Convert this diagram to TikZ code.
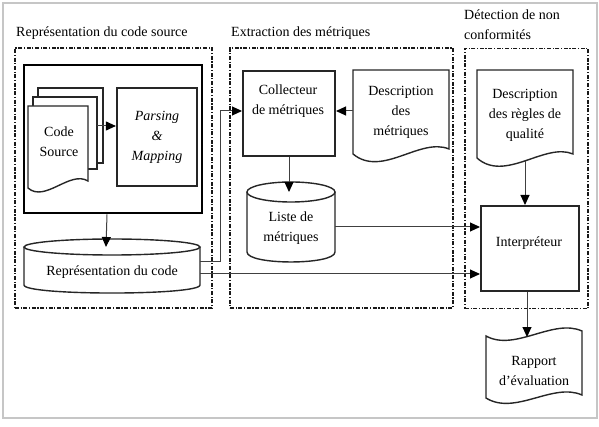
\documentclass[tikz,border=0pt]{standalone}
\usepackage{fontspec}
\setmainfont{Liberation Serif}
\usetikzlibrary{arrows.meta,calc}
\begin{document}
\begin{tikzpicture}[x=1pt,y=-1pt,
  txt/.style={font=\fontsize{14}{20}\selectfont, align=center, inner sep=0pt},
  grp/.style={draw=black!90, line width=1.5pt, dash pattern=on 4pt off 1.6pt on 1.2pt off 1.6pt, inner sep=0pt},
  arr/.style={draw=black!75, line width=1pt, -{Triangle[length=10pt,width=9pt,color=black]}},
  shp/.style={draw=black!85, line width=1.4pt, fill=white},
  box/.style={draw=black!85, line width=2pt, fill=white, inner sep=0pt},
  ghost/.style={inner sep=0pt, outer sep=0pt},
]
\useasboundingbox (0,0) rectangle (599,427);
\draw[gray!45, line width=1.5pt] (3,3) rectangle (597,418);

% group frames
\node[grp, minimum width=197pt, minimum height=260pt] (g1) at (113.5,178) {};
\node[grp, minimum width=223pt, minimum height=260pt] (g2) at (341.5,178) {};
\node[grp, minimum width=123pt, minimum height=260pt] (g3) at (526.5,178.5) {};

% group titles
\node[txt, anchor=west] (t1) at (16,33) {Représentation du code source};
\node[txt, anchor=west] (t2) at (231,33) {Extraction des métriques};
\node[txt, anchor=west, align=left] (t3) at (464,25) {Détection de non\\conformités};

% source block
\node[draw=black, line width=2.8pt, minimum width=178pt, minimum height=148pt, inner sep=0pt] (src) at (113,139) {};
\draw[shp] (38,88) rectangle (103,163);
\draw[shp] (33,97) rectangle (97,169);
\draw[shp] (28,106) -- (88,106) -- (88,181) .. controls (70,170) and (45,203) .. (28,188) -- cycle;
\node[txt] (cs) at (59,142) {Code\\Source};
\coordinate (csout) at (97,126);
\node[box, line width=2.2pt, minimum width=80pt, minimum height=98pt, font=\fontsize{14}{20}\selectfont\itshape, align=center] (parse) at (157,137) {Parsing\\\&\\Mapping};

% representation cylinder
\draw[shp] (24,247) -- (24,285) .. controls (24,295.7) and (200,295.7) .. (200,285) -- (200,247);
\draw[shp] (112,247) ellipse [x radius=88, y radius=8];
\node[ghost, minimum width=176pt, minimum height=46pt] (repcyl) at (112,270) {};
\node[txt] (rep) at (112,272) {Représentation du code};

% collecteur
\node[box, minimum width=92pt, minimum height=85pt] (coll) at (289,113.5) {};
\node[txt] (colltxt) at (288,101) {Collecteur\\de métriques};

% description des metriques
\draw[shp] (353,70) -- (449,70) -- (449,149) .. controls (420,137) and (382,178) .. (353,154) -- cycle;
\node[ghost, minimum width=96pt, minimum height=84pt] (descdoc) at (401,112) {};
\node[txt] (desc) at (401,112) {Description\\des\\métriques};

% liste cylinder
\draw[shp] (247,192) -- (247,252) .. controls (247,265.3) and (335,265.3) .. (335,252) -- (335,192);
\draw[shp] (291,192) ellipse [x radius=44, y radius=10];
\node[ghost, minimum width=88pt, minimum height=70pt] (listecyl) at (291,227) {};
\node[txt] (liste) at (291,228.5) {Liste de\\métriques};

% regles
\draw[shp] (477,70) -- (573,70) -- (573,154) .. controls (545,142) and (505,183) .. (477,158) -- cycle;
\node[ghost, minimum width=96pt, minimum height=91pt] (regdoc) at (525,115.5) {};
\node[txt] (reg) at (525,115) {Description\\des règles de\\qualité};

% interpreteur
\node[box, minimum width=98pt, minimum height=85pt] (interp) at (530,248.5) {};
\node[txt] (interptxt) at (529,243) {Interpréteur};

% rapport
\draw[shp] (486,336) .. controls (515,352) and (553,318) .. (582,331) -- (582,395) .. controls (553,382) and (515,416) .. (486,398) -- cycle;
\node[ghost, minimum width=96pt, minimum height=60pt] (rapdoc) at (534,367) {};
\node[txt] (rap) at (534,371) {Rapport\\d’évaluation};

% connectors
\draw[arr] (csout) -- (csout -| parse.west);
\draw[arr] ([xshift=-6pt]src.south) -- ([xshift=-6pt]repcyl.north);
\draw[arr] ([yshift=8pt]repcyl.east) -- ++(20,0) |- ([yshift=2.5pt]coll.west);
\draw[arr] ([yshift=-4pt]repcyl.east) -- ([yshift=-4pt]repcyl.east -| interp.west);
\draw[arr] ([yshift=2.5pt]coll.east -| descdoc.west) -- ([yshift=2.5pt]coll.east);
\draw[arr] (coll.south) -- (coll.south |- listecyl.north);
\draw[arr] (listecyl.east) -- (listecyl.east -| interp.west);
\draw[arr] (regdoc.south) -- (regdoc.south |- interp.north);
\draw[arr] ([xshift=-3pt]interp.south) -- ([xshift=-3pt]interp.south |- rapdoc.north);
\end{tikzpicture}
\end{document}
